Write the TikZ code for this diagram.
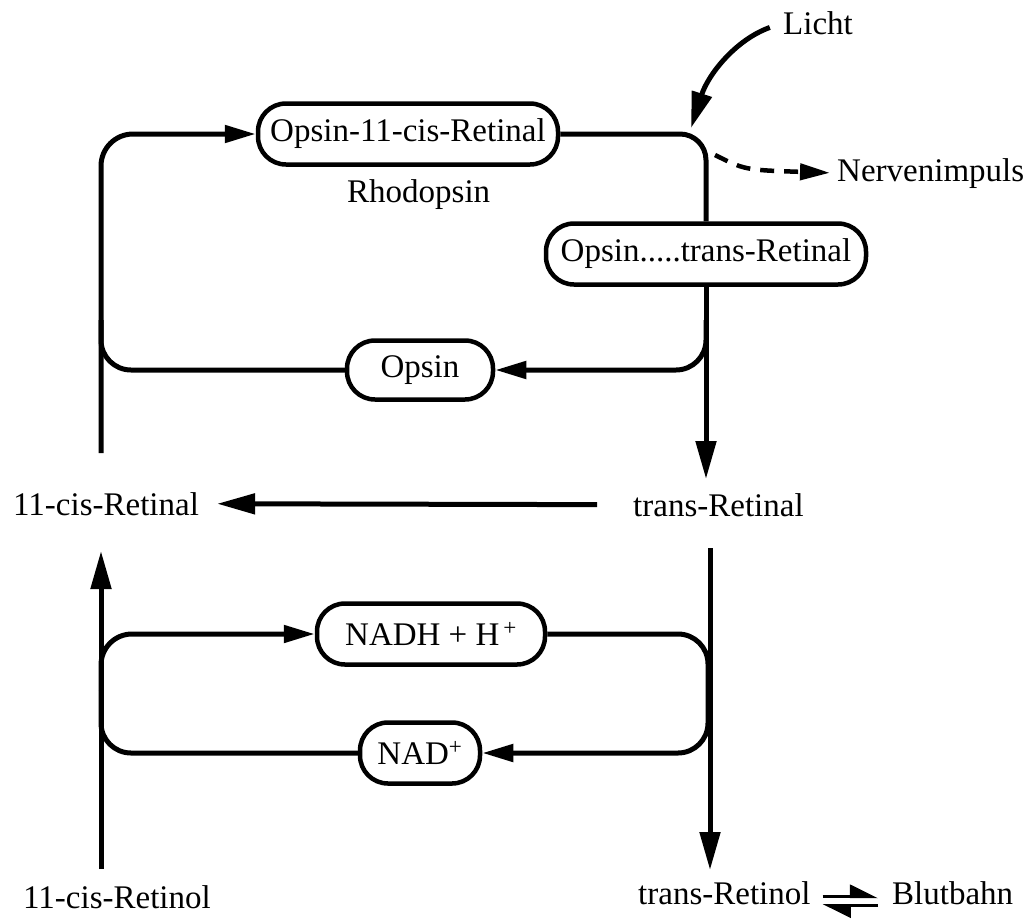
\documentclass[tikz,border=0pt]{standalone}
\usepackage{fontspec}
\setmainfont{Liberation Serif}
\usetikzlibrary{arrows.meta}

\tikzset{
  box/.style={draw, line width=4.5pt, rounded corners=28pt, minimum height=61pt, inner sep=0pt},
  lab/.style={inner sep=0pt, anchor=base west},
  flow/.style={line width=5pt},
  looptip/.style={-{Triangle[length=31pt,width=17pt]}},
  spinetip/.style={-{Triangle[length=38pt,width=20pt]}},
  eqline/.style={line width=3pt, -{Triangle[harpoon,length=25pt,width=24pt]}},
}

\begin{document}
\begin{tikzpicture}[x=1pt,y=-1pt,every node/.style={font=\fontsize{33}{38}\selectfont}]
\useasboundingbox (0,0) rectangle (1031,919);

% boxes of the cycle
\node[box, minimum width=300pt] (rhodo) at (408,134) {Opsin-11-cis-Retinal};
\node[lab] (rhodlab) at (347,202) {Rhodopsin};
\node[box, minimum width=320pt] (inter) at (706,254) {Opsin.....trans-Retinal};
\node[box, minimum width=146pt, minimum height=59pt] (opsin) at (420,370) {Opsin};
\node[box, minimum width=228pt] (nadh) at (431,634) {NADH + H\textsuperscript{\,+}};
\node[box, minimum width=120pt] (nad) at (420,753) {NAD\textsuperscript{+}};

% plain labels
\node[lab] (licht) at (783,34) {Licht};
\node[lab] (nerv) at (837,181) {Nervenimpuls};
\node[lab] (cisRal) at (13,515) {11-cis-Retinal};
\node[lab] (transRal) at (633,516) {trans-Retinal};
\node[lab] (cisRol) at (23,908) {11-cis-Retinol};
\node[lab] (transRol) at (638,904) {trans-Retinol};
\node[lab] (blut) at (892,904) {Blutbahn};

% free ends
\coordinate (hit) at (691,128);
\coordinate (impstart) at (715,155);
\coordinate (cisTop) at (101,453);
\coordinate (lBranch) at (101,320);
\coordinate (rBranch) at (706,320);
\coordinate (transTip) at (706,479);
\coordinate (transBot) at (710,548);
\coordinate (retinolTip) at (710,870);
\coordinate (cisBot) at (101,869);
\coordinate (cisTip) at (101,551);
\coordinate (lLoop) at (101,690);
\coordinate (rLoop) at (708,690);

% upper cycle
\draw[flow, looptip, rounded corners=32pt] (cisTop) |- (rhodo.west);
\draw[flow, rounded corners=26pt] (rhodo.east) -| (inter.north);
\draw[flow, spinetip] (inter.south) -- (transTip);
\draw[flow, looptip, rounded corners=30pt] (rBranch) |- (opsin.east);
\draw[flow, rounded corners=30pt] (opsin.west) -| (lBranch);

% light and impulse
\draw[flow, shorten <=14pt, -{Triangle[length=36pt,width=20pt]}] (licht.west) .. controls (735,40) and (708,75) .. (hit);
\draw[line width=4.5pt, dash pattern=on 14pt off 10pt, shorten >=7pt, -{Triangle[length=30pt,width=16pt]}] (impstart) .. controls (745,170) .. (nerv.west);

% middle
\draw[flow, spinetip, shorten <=36pt, shorten >=18pt] (transRal.west) -- (cisRal.east);

% lower cycle
\draw[flow, spinetip] (transBot) -- (retinolTip);
\draw[flow, spinetip] (cisBot) -- (cisTip);
\draw[flow, looptip, rounded corners=31pt] (lLoop) |- (nadh.west);
\draw[flow, looptip, rounded corners=30pt] (nadh.east) -| (rLoop) |- (nad.east);
\draw[flow, rounded corners=30pt] (nad.west) -| (lLoop);

% equilibrium with the blood
\draw[eqline, shorten <=12pt, shorten >=14pt] ([yshift=-4pt]transRol.east) -- ([yshift=-4pt]blut.west);
\draw[eqline, shorten <=14pt, shorten >=12pt] ([yshift=-13pt]blut.west) -- ([yshift=-13pt]transRol.east);
\end{tikzpicture}
\end{document}
